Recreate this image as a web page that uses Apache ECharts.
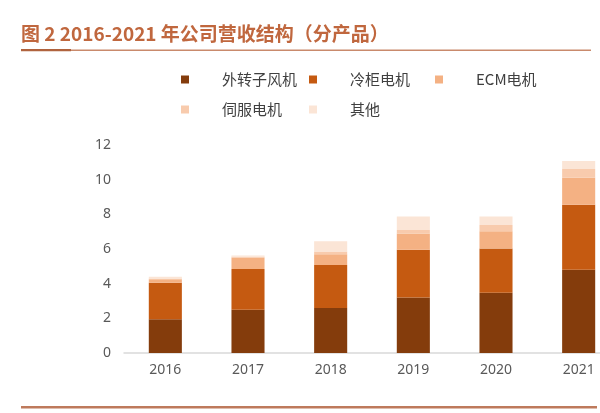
<!DOCTYPE html>
<html>
<head>
<meta charset="utf-8">
<script src="https://cdn.jsdelivr.net/npm/echarts@6/dist/echarts.min.js"></script>
<style>
html,body{margin:0;padding:0;background:#fff;overflow:hidden;width:600px;height:413px;}
#c{width:640px;height:413px;}
</style>
</head>
<body>
<div id="c"></div>
<script>
const years = ['2016','2017','2018','2019','2020','2021'];
const seriesNames = ['外转子风机','冷柜电机','ECM电机','伺服电机','其他'];
const outerRotorFan = [1.95, 2.5, 2.6, 3.2, 3.47, 4.8];
const freezerMotor = [2.1, 2.35, 2.48, 2.75, 2.56, 3.75];
const ecmMotor = [0.2, 0.65, 0.62, 0.95, 1.0, 1.56];
const servoMotor = [0.05, 0.05, 0.15, 0.2, 0.35, 0.5];
const others = [0.1, 0.07, 0.6, 0.77, 0.5, 0.46];
const yTicks = [0, 2, 4, 6, 8, 10, 12];

const colors = ['#843C0C','#C55A11','#F4B183','#F8CBAD','#FBE5D6'];
const values = [outerRotorFan, freezerMotor, ecmMotor, servoMotor, others];

const legendPos = [[176,67],[304,67],[430,67],[176,97],[304,97]];
const legends = seriesNames.map((n,i)=>({
  data:[n], left:legendPos[i][0], top:legendPos[i][1],
  itemWidth:8, itemHeight:8, icon:'rect', itemGap:0,
  textStyle:{fontSize:15, color:'#404040', padding:[0,0,0,28], fontFamily:'Noto Sans CJK SC'},
  selectedMode:false
}));

const chart = echarts.init(document.getElementById('c'), null, {renderer:'canvas', width:640, height:413});
chart.setOption({
  animation:false,
  backgroundColor:'#fff',
  color: colors,
  title:{
    text:'图 2 2016-2021 年公司营收结构（分产品）',
    left:16, top:19,
    textStyle:{fontSize:19, fontWeight:'bold', color:'#C0673E', fontFamily:'Noto Sans CJK SC'}
  },
  graphic:[
    {type:'rect', shape:{x:21,y:49.5,width:570,height:1.6}, style:{fill:'#C98A6C'}},
    {type:'rect', shape:{x:21,y:49,width:50,height:2.2}, style:{fill:'#B0633E'}},
    {type:'rect', shape:{x:21,y:406,width:576,height:2.4}, style:{fill:'#BE7A5C'}}
  ],
  legend: legends,
  grid:{left:124, right:20, top:145, bottom:60, containLabel:false},
  xAxis:{
    type:'category', data: years,
    axisLine:{lineStyle:{color:'#D9D9D9', width:1.5}},
    axisTick:{show:false},
    axisLabel:{fontSize:14, color:'#595959', margin:10, fontFamily:'Noto Sans'}
  },
  yAxis:{
    type:'value', min:yTicks[0], max:yTicks[yTicks.length-1], interval:2,
    axisLine:{show:false}, axisTick:{show:false},
    splitLine:{show:false},
    axisLabel:{fontSize:14, color:'#595959', margin:13, fontFamily:'Noto Sans'}
  },
  series: seriesNames.map((n,i)=>({
    name:n, type:'bar', stack:'total', data: values[i],
    barWidth:'40%',
    itemStyle:{color:colors[i]}
  }))
});
</script>
</body>
</html>
